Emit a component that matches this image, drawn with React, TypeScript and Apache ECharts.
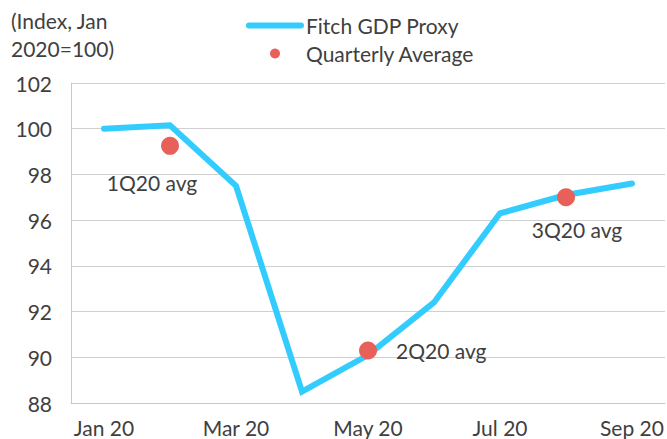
import React, { useEffect, useRef } from "react";
import * as echarts from "echarts";

const months = ["Jan 20", "Feb 20", "Mar 20", "Apr 20", "May 20", "Jun 20", "Jul 20", "Aug 20", "Sep 20"];
const gdpProxy = [100.0, 100.15, 97.5, 88.5, 90.1, 92.4, 96.3, 97.1, 97.6];
const quarterMonths = ["Feb 20", "May 20", "Aug 20"];
const quarterAvg = [99.25, 90.3, 97.0];
const quarterLabels = ["1Q20 avg", "2Q20 avg", "3Q20 avg"];

const FONT = "Lato, 'Noto Sans', sans-serif";
const TXT = "#404040";
const FS = 21;

export default function App() {
  const ref = useRef<HTMLDivElement>(null);
  useEffect(() => {
    if (!ref.current) return;
    const chart = echarts.init(ref.current, undefined, { renderer: "svg" });
    const labelCfg = [
      { position: "bottom", offset: [-18, 12] },
      { position: "right", distance: 19, offset: [0, 0] },
      { position: "bottom", offset: [11, 8] },
    ];
    chart.setOption({
      animation: false,
      textStyle: { fontFamily: FONT },
      grid: { left: 71, right: 2, top: 83, bottom: 36, containLabel: false },
      legend: {
        orient: "vertical",
        left: 246,
        top: 15,
        padding: 0,
        itemWidth: 52,
        itemHeight: 10,
        itemGap: 7,
        textStyle: { fontSize: FS, color: TXT, fontFamily: FONT },
        data: [
          {
            name: "Fitch GDP Proxy",
            itemStyle: { opacity: 0 },
            lineStyle: { width: 6, cap: "round", color: "#33CCFF" },
          },
          { name: "Quarterly Average" },
        ],
      },
      graphic: [
        {
          type: "text",
          left: 11,
          top: 6,
          style: {
            text: "(Index, Jan\n2020=100)",
            fontSize: FS,
            lineHeight: 28,
            fill: TXT,
            fontFamily: FONT,
          },
        },
      ],
      xAxis: {
        type: "category",
        data: months,
        boundaryGap: true,
        axisLine: { show: true, lineStyle: { color: "#c8c8c8", width: 1 } },
        axisTick: { show: false },
        axisLabel: { interval: 1, fontSize: FS, color: TXT, margin: 14, fontFamily: FONT },
        splitLine: { show: false },
      },
      yAxis: {
        type: "value",
        min: 88,
        max: 102,
        interval: 2,
        axisLine: { show: true, lineStyle: { color: "#c8c8c8", width: 1 } },
        axisTick: { show: false },
        axisLabel: { fontSize: FS, color: TXT, margin: 19, fontFamily: FONT },
        splitLine: { show: true, lineStyle: { color: "#d0d0d0", width: 1 } },
      },
      series: [
        {
          name: "Fitch GDP Proxy",
          type: "line",
          data: gdpProxy,
          symbol: "none",
          lineStyle: { color: "#33CCFF", width: 6, cap: "round", join: "miter" },
          itemStyle: { color: "#33CCFF" },
          z: 2,
        },
        {
          name: "Quarterly Average",
          type: "scatter",
          data: quarterMonths.map((m, i) => ({
            value: [m, quarterAvg[i]],
            label: {
              show: true,
              formatter: quarterLabels[i],
              ...labelCfg[i],
            },
          })),
          symbolSize: 18,
          itemStyle: { color: "#E8605A", opacity: 1 },
          label: { fontSize: FS, color: TXT, fontFamily: FONT },
          z: 3,
        },
      ],
    });
    return () => chart.dispose();
  }, []);
  return <div ref={ref} style={{ width: 667, height: 439, position: "absolute", left: 0, top: 0 }} />;
}
